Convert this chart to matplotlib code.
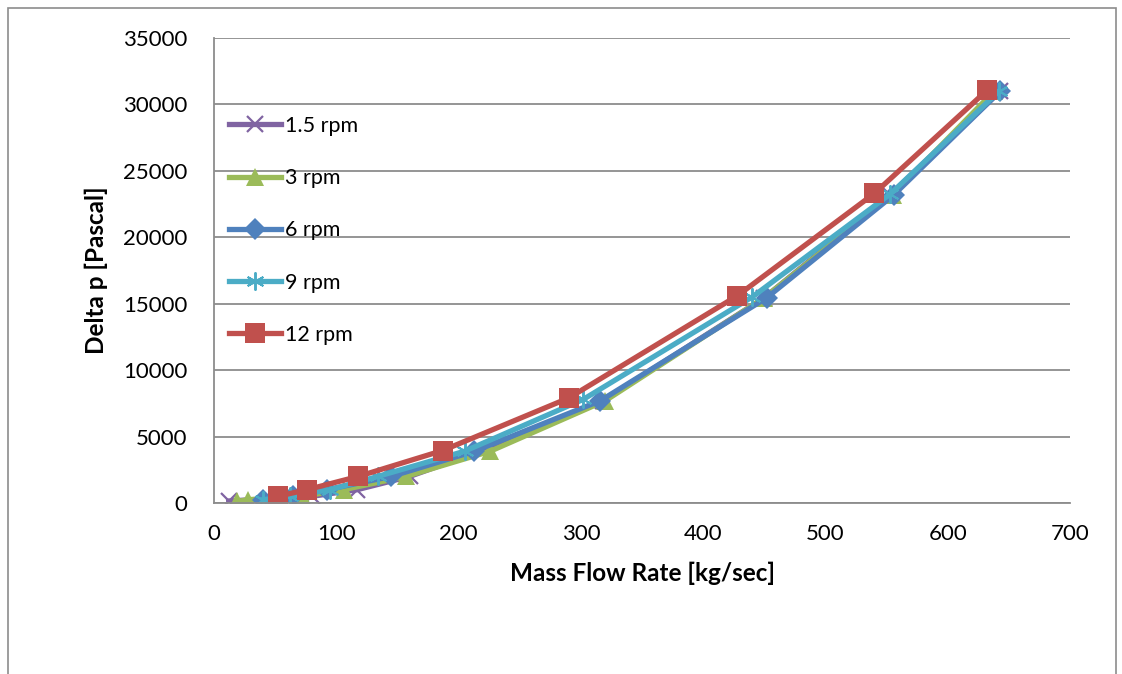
import matplotlib.pyplot as plt
from matplotlib.patches import Rectangle

# data (mass flow [kg/sec], delta p [Pa])
flow_1_5 = [12, 80, 117, 160, 218, 318, 450, 553, 643]
dp_1_5 = [150, 500, 1000, 2000, 3900, 7700, 15450, 23200, 31000]
flow_3 = [19, 28, 72, 106, 157, 226, 320, 450, 555, 638]
dp_3 = [120, 250, 500, 1000, 2000, 3900, 7700, 15450, 23200, 31000]
flow_6 = [40, 65, 92, 145, 213, 316, 452, 556, 643]
dp_6 = [250, 500, 1000, 2000, 3900, 7700, 15450, 23200, 31000]
flow_9 = [40, 62, 95, 134, 205, 302, 440, 553, 642]
dp_9 = [250, 500, 1000, 2000, 3900, 7800, 15500, 23250, 31000]
flow_12 = [52, 76, 118, 187, 290, 428, 540, 632]
dp_12 = [500, 1000, 2000, 3950, 7900, 15600, 23300, 31050]

labels = ['1.5 rpm', '3 rpm', '6 rpm', '9 rpm', '12 rpm']
colors = ['#8064A2', '#9BBB59', '#4F81BD', '#4BACC6', '#C0504D']

plt.rcParams['font.family'] = ['Lato', 'DejaVu Sans']

fig = plt.figure(figsize=(11.22, 6.74), dpi=100)
ax = fig.add_axes([214 / 1122, 1 - 503 / 674, 856 / 1122, 465 / 674])

# outer chart border
fig.patches.append(Rectangle((8 / 1122, -0.1), 1108 / 1122, 1.1 - 8 / 674,
                             transform=fig.transFigure, fill=False,
                             edgecolor='#8c8c8c', linewidth=1.2))

lw = 3.8
ax.plot(flow_1_5, dp_1_5, color=colors[0], lw=lw, marker='x', ms=11, mew=1.6,
        label=labels[0])
ax.plot(flow_3, dp_3, color=colors[1], lw=lw, marker='^', ms=13, mew=0,
        label=labels[1])
ax.plot(flow_6, dp_6, color=colors[2], lw=lw, marker='D', ms=11, mew=0,
        label=labels[2])
ax.plot(flow_9, dp_9, color=colors[3], lw=lw, marker=(6, 2, 0), ms=13, mew=1.4,
        label=labels[3])
ax.plot(flow_12, dp_12, color=colors[4], lw=lw, marker='s', ms=14, mew=0,
        label=labels[4])

ax.set_xlim(0, 700)
ax.set_ylim(0, 35000)
ax.set_xticks(range(0, 701, 100))
ax.set_yticks(range(0, 35001, 5000))
ax.tick_params(axis='x', length=0, labelsize=16, pad=15)
ax.tick_params(axis='y', length=0, labelsize=16, pad=19)
ax.grid(axis='y', color='#8c8c8c', lw=1.3)
ax.set_axisbelow(True)
for s in ['top', 'right']:
    ax.spines[s].set_visible(False)
for s in ['left', 'bottom']:
    ax.spines[s].set_color('#8c8c8c')
    ax.spines[s].set_linewidth(1.3)

ax.set_xlabel('Mass Flow Rate [kg/sec]', fontsize=17.5, fontweight='bold', labelpad=13)
ax.set_ylabel('Delta p [Pascal]', fontsize=17.5, fontweight='bold', labelpad=11)

ax.legend(loc='upper left', bbox_to_anchor=(0.0, 0.865), frameon=False,
          fontsize=15.5, handlelength=2.4, handletextpad=0.2, labelspacing=1.5,
          borderaxespad=0.3)

fig.savefig('out.png', dpi=100)
